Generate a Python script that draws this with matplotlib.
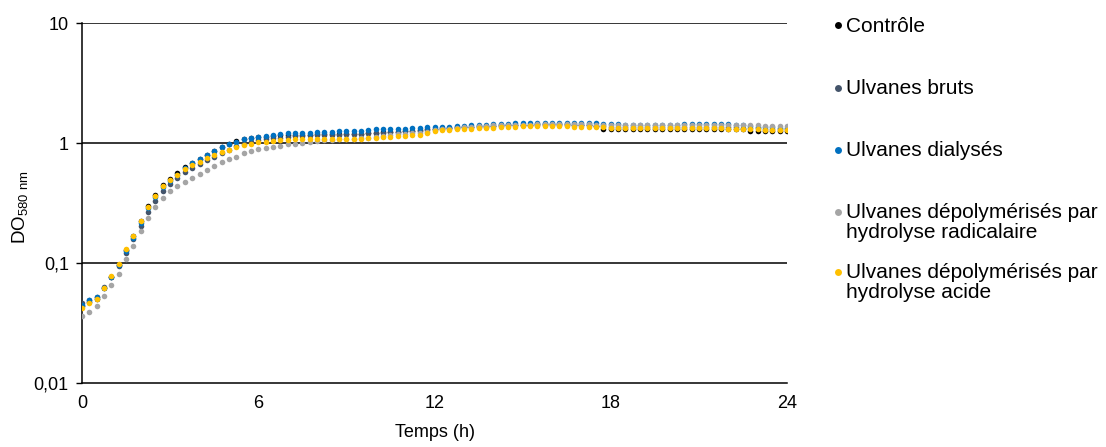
import numpy as np
import matplotlib
matplotlib.use("Agg")
import matplotlib.pyplot as plt
from matplotlib.lines import Line2D

plt.rcParams['font.family'] = ['Liberation Sans', 'DejaVu Sans']

# sampling every 15 min over 24 h
hours = np.arange(0, 24.01, 0.25)

controle = [
    0.044, 0.047, 0.050, 0.062, 0.077, 0.097, 0.128, 0.168, 0.225, 0.300,
    0.370, 0.445, 0.500, 0.560, 0.630, 0.680, 0.735, 0.795, 0.860, 0.925,
    0.985, 1.04, 1.08, 1.10, 1.12, 1.13, 1.15, 1.16, 1.16, 1.17,
    1.17, 1.17, 1.18, 1.18, 1.18, 1.18, 1.19, 1.19, 1.19, 1.20,
    1.22, 1.23, 1.23, 1.24, 1.25, 1.26, 1.28, 1.30, 1.32, 1.33,
    1.34, 1.35, 1.36, 1.37, 1.38, 1.38, 1.39, 1.40, 1.41, 1.41,
    1.42, 1.42, 1.43, 1.43, 1.43, 1.43, 1.43, 1.42, 1.42, 1.41,
    1.38, 1.32, 1.32, 1.31, 1.31, 1.31, 1.31, 1.31, 1.30, 1.30,
    1.32, 1.32, 1.32, 1.32, 1.32, 1.32, 1.31, 1.31, 1.31, 1.31,
    1.30, 1.25, 1.27, 1.26, 1.27, 1.27, 1.27]

bruts = [
    0.046, 0.049, 0.052, 0.063, 0.076, 0.094, 0.122, 0.158, 0.205, 0.265,
    0.330, 0.400, 0.455, 0.510, 0.570, 0.620, 0.670, 0.720, 0.770, 0.830,
    0.880, 0.940, 0.990, 1.02, 1.05, 1.07, 1.10, 1.11, 1.13, 1.14,
    1.15, 1.16, 1.16, 1.17, 1.17, 1.17, 1.18, 1.18, 1.19, 1.20,
    1.21, 1.22, 1.23, 1.24, 1.25, 1.26, 1.27, 1.29, 1.31, 1.32,
    1.33, 1.34, 1.35, 1.36, 1.37, 1.37, 1.38, 1.39, 1.40, 1.40,
    1.41, 1.41, 1.42, 1.42, 1.42, 1.42, 1.42, 1.41, 1.41, 1.40,
    1.39, 1.38, 1.37, 1.36, 1.36, 1.36, 1.36, 1.36, 1.36, 1.36,
    1.37, 1.37, 1.37, 1.37, 1.36, 1.36, 1.36, 1.35, 1.35, 1.35,
    1.34, 1.33, 1.33, 1.32, 1.32, 1.32, 1.32]

dialyses = [
    0.045, 0.049, 0.052, 0.062, 0.077, 0.096, 0.125, 0.162, 0.215, 0.285,
    0.355, 0.430, 0.485, 0.545, 0.620, 0.675, 0.740, 0.800, 0.865, 0.925,
    0.975, 1.02, 1.08, 1.10, 1.13, 1.14, 1.16, 1.18, 1.20, 1.21,
    1.21, 1.22, 1.23, 1.24, 1.24, 1.25, 1.25, 1.26, 1.27, 1.29,
    1.30, 1.31, 1.32, 1.32, 1.32, 1.33, 1.34, 1.35, 1.36, 1.37,
    1.37, 1.38, 1.39, 1.40, 1.41, 1.42, 1.43, 1.44, 1.45, 1.46,
    1.47, 1.48, 1.48, 1.48, 1.48, 1.48, 1.48, 1.47, 1.47, 1.47,
    1.46, 1.45, 1.44, 1.43, 1.42, 1.42, 1.41, 1.41, 1.41, 1.41,
    1.42, 1.42, 1.43, 1.43, 1.43, 1.43, 1.43, 1.43, 1.43, 1.42,
    1.40, 1.38, 1.37, 1.36, 1.35, 1.34, 1.34]

radicalaire = [
    0.036, 0.039, 0.044, 0.053, 0.066, 0.081, 0.107, 0.139, 0.185, 0.235,
    0.295, 0.345, 0.400, 0.440, 0.475, 0.510, 0.555, 0.600, 0.645, 0.700,
    0.735, 0.760, 0.820, 0.860, 0.890, 0.900, 0.930, 0.950, 0.975, 0.990,
    1.00, 1.02, 1.04, 1.05, 1.06, 1.07, 1.08, 1.09, 1.10, 1.11,
    1.13, 1.15, 1.17, 1.18, 1.19, 1.20, 1.21, 1.24, 1.28, 1.30,
    1.32, 1.34, 1.36, 1.37, 1.38, 1.39, 1.40, 1.41, 1.41, 1.42,
    1.42, 1.42, 1.43, 1.43, 1.43, 1.43, 1.43, 1.43, 1.43, 1.43,
    1.42, 1.42, 1.42, 1.42, 1.42, 1.42, 1.42, 1.42, 1.42, 1.42,
    1.42, 1.42, 1.42, 1.42, 1.41, 1.41, 1.41, 1.41, 1.41, 1.40,
    1.40, 1.40, 1.40, 1.39, 1.39, 1.39, 1.39]

acide = [
    0.042, 0.046, 0.050, 0.062, 0.078, 0.098, 0.130, 0.168, 0.222, 0.295,
    0.365, 0.440, 0.490, 0.545, 0.605, 0.650, 0.700, 0.750, 0.800, 0.840,
    0.880, 0.920, 0.960, 0.990, 1.01, 1.02, 1.04, 1.05, 1.06, 1.07,
    1.07, 1.07, 1.07, 1.07, 1.08, 1.08, 1.08, 1.08, 1.09, 1.10,
    1.11, 1.12, 1.13, 1.14, 1.15, 1.16, 1.17, 1.20, 1.25, 1.28,
    1.29, 1.30, 1.31, 1.32, 1.33, 1.33, 1.34, 1.35, 1.36, 1.37,
    1.38, 1.38, 1.38, 1.38, 1.38, 1.38, 1.38, 1.37, 1.37, 1.36,
    1.35, 1.35, 1.34, 1.34, 1.34, 1.34, 1.33, 1.33, 1.33, 1.33,
    1.33, 1.33, 1.33, 1.33, 1.33, 1.33, 1.33, 1.33, 1.32, 1.32,
    1.31, 1.31, 1.30, 1.29, 1.29, 1.28, 1.28]

labels = ['Contrôle', 'Ulvanes bruts', 'Ulvanes dialysés',
          'Ulvanes dépolymérisés par\nhydrolyse radicalaire',
          'Ulvanes dépolymérisés par\nhydrolyse acide']
colors = ['#000000', '#44546A', '#0070C0', '#A5A5A5', '#FFC000']
series = [controle, bruts, dialyses, radicalaire, acide]

xticks = [0, 6, 12, 18, 24]
yticks = [0.01, 0.1, 1, 10]
ytick_labels = ['0,01', '0,1', '1', '10']

W, H = 1106, 447
fig = plt.figure(figsize=(W / 100, H / 100), dpi=100)
ax = fig.add_axes([82 / W, 1 - 383 / H, 705 / W, 360 / H])

for vals, c in zip(series, colors):
    ax.plot(hours, vals, 'o', color=c, markersize=4, markeredgewidth=0, zorder=3)

ax.set_yscale('log')
ax.set_ylim(0.01, 10)
ax.set_xlim(0, 24)
ax.set_xticks(xticks)
ax.set_yticks(yticks)
ax.set_yticklabels(ytick_labels)
ax.minorticks_off()
ax.tick_params(axis='x', length=0, pad=9, labelsize=13)
ax.tick_params(axis='y', length=4.5, width=1, pad=5, labelsize=13, direction='out')

for yv in [0.1, 1, 10]:
    ax.axhline(yv, color='black', linewidth=1.1, zorder=1)

for s in ['top', 'right']:
    ax.spines[s].set_visible(False)
ax.spines['left'].set_linewidth(1.1)
ax.spines['bottom'].set_linewidth(1.1)

ax.set_xlabel('Temps (h)', fontsize=13)
ax.xaxis.set_label_coords(0.5, -0.115)
ax.set_ylabel(r'DO$_{\mathregular{580\ nm}}$', fontsize=13.5)
ax.yaxis.set_label_coords(-0.072, 0.49)

# legend drawn by hand so markers sit on the first text line
first_line_y = [25, 88, 150, 212, 272]
for lab, c, yp in zip(labels, colors, first_line_y):
    fig.add_artist(Line2D([838 / W], [1 - yp / H], marker='o', color=c,
                          markersize=5, markeredgewidth=0, linestyle='none'))
    for j, line in enumerate(lab.split('\n')):
        fig.text(846 / W, 1 - (yp + 1 + 20 * j) / H, line, fontsize=15,
                 va='center', ha='left')

fig.savefig('out.png', dpi=100)
